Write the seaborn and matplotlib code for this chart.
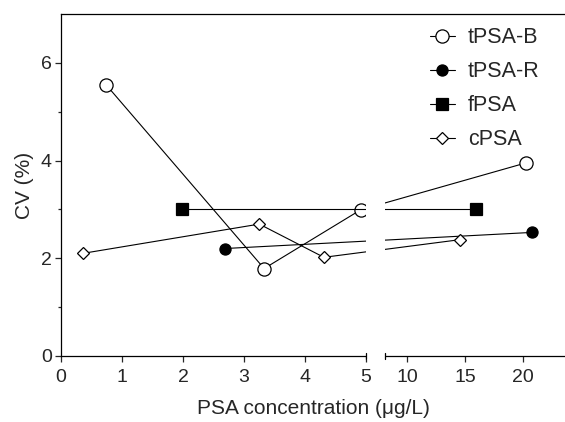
import numpy as np
import pandas as pd
import seaborn as sns
import matplotlib.pyplot as plt
from matplotlib.patches import Rectangle

# data
tpsa_b_x = [0.74, 3.33, 4.91, 20.25]
tpsa_b_y = [5.55, 1.79, 2.99, 3.95]
tpsa_r_x = [2.69, 20.84]
tpsa_r_y = [2.20, 2.53]
fpsa_x = [1.99, 15.94]
fpsa_y = [3.00, 3.00]
cpsa_x = [0.355, 3.25, 4.31, 14.53]
cpsa_y = [2.10, 2.70, 2.02, 2.38]

x_ticks = [0, 1, 2, 3, 4, 5, 10, 15, 20]
y_ticks = [0, 2, 4, 6]

sns.set_style("ticks")
plt.rcParams['font.family'] = ['Liberation Sans', 'DejaVu Sans']

# broken x axis: 0-5 linear, then a gap, then a compressed 8-24 part
XB, XR, UR, K = 5.0, 8.07, 5.311, 0.1892

def fwd(x):
    x = np.asarray(x, dtype=float)
    return np.where(x <= XB, x,
                    np.where(x < XR, XB + (x - XB) * (UR - XB) / (XR - XB),
                             UR + (x - XR) * K))

def inv(u):
    u = np.asarray(u, dtype=float)
    return np.where(u <= XB, u,
                    np.where(u < UR, XB + (u - XB) * (XR - XB) / (UR - XB),
                             XR + (u - UR) / K))

fig = plt.figure(figsize=(5.65, 4.22), dpi=100)
ax = fig.add_axes([0.108, 0.1564, 0.892, 0.8104])
ax.set_xscale('function', functions=(fwd, inv))
ax.set_xlim(0, 23.67)
ax.set_ylim(0, 7)

common = dict(color='black', lw=0.8, mec='black', mew=0.9, sort=False,
              estimator=None, ax=ax)
sns.lineplot(x=tpsa_b_x, y=tpsa_b_y, marker='o', ms=9.5, mfc='white',
             label='tPSA-B', **common)
sns.lineplot(x=tpsa_r_x, y=tpsa_r_y, marker='o', ms=8, mfc='black',
             label='tPSA-R', **common)
sns.lineplot(x=fpsa_x, y=fpsa_y, marker='s', ms=8.5, mfc='black',
             label='fPSA', **common)
sns.lineplot(x=cpsa_x, y=cpsa_y, marker='D', ms=6.5, mfc='white',
             label='cPSA', **common)

# hide the lines and axis inside the break
ax.add_patch(Rectangle((XB, -0.08), XR - XB, 6.95, facecolor='white',
                       edgecolor='none', zorder=2.6, clip_on=False))
for xb in [XB, XR]:
    ax.plot([xb, xb], [-0.06, 0.06], color='black', lw=0.9,
            clip_on=False, zorder=3)

ax.set_xticks(x_ticks)
ax.set_xticklabels([str(t) for t in x_ticks])
ax.xaxis.set_minor_locator(plt.NullLocator())
ax.set_yticks(y_ticks)
ax.set_yticks([1, 3, 5], minor=True)
ax.tick_params(axis='both', which='major', direction='out', length=4.5,
               width=0.9, labelsize=14)
ax.tick_params(axis='x', which='major', pad=5)
ax.tick_params(axis='y', which='major', pad=2)
ax.tick_params(axis='y', which='minor', direction='out', length=2.5, width=0.9)

for side in ['left', 'bottom', 'top']:
    ax.spines[side].set_linewidth(0.9)
    ax.spines[side].set_color('black')
ax.spines['right'].set_visible(False)

ax.set_xlabel("PSA concentration (\u03bcg/L)", fontsize=15, labelpad=9)
ax.set_ylabel("CV (%)", fontsize=15, labelpad=5)

ax.legend(loc='upper left', bbox_to_anchor=(0.761, 0.935),
          bbox_transform=fig.transFigure, frameon=False, fontsize=15.5,
          handlelength=1.15, handletextpad=0.6, labelspacing=0.6,
          borderpad=0, borderaxespad=0)

fig.savefig('out.png', dpi=100)
